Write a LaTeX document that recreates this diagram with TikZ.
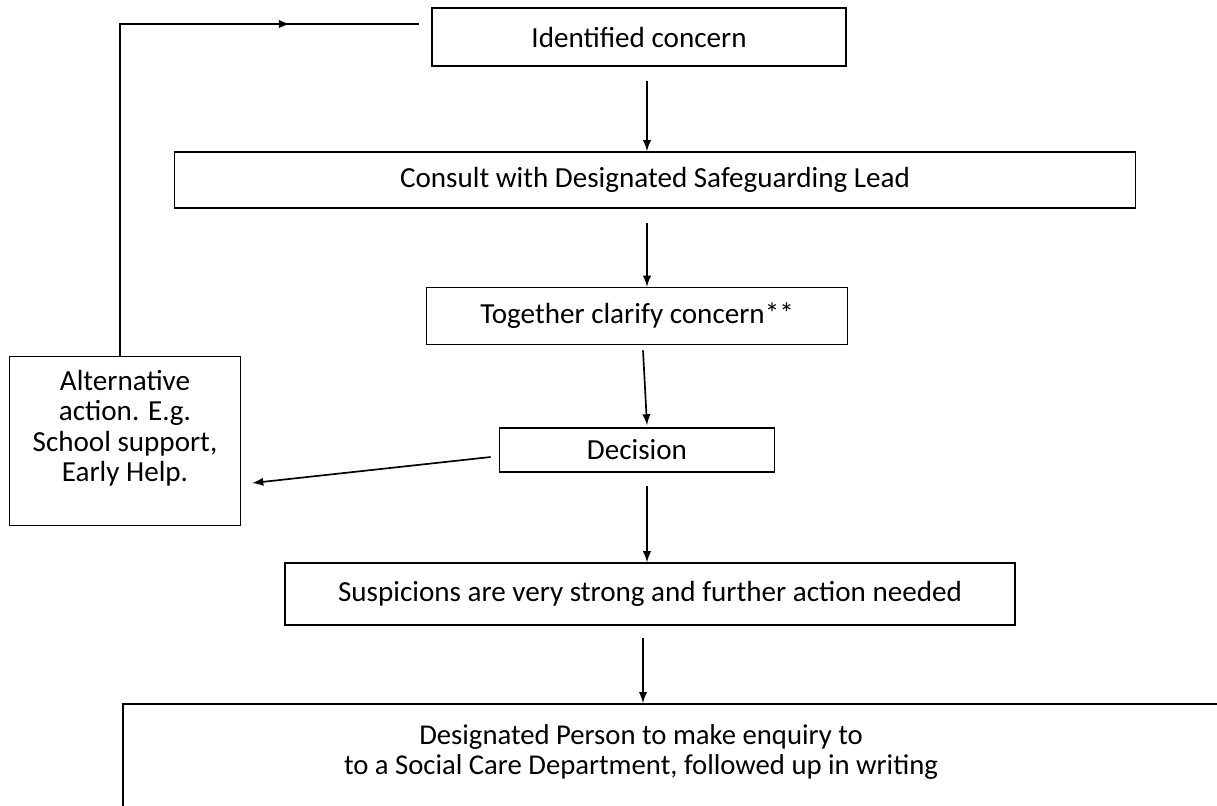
\documentclass[tikz,border=0pt]{standalone}
\usepackage{fontspec}
\setmainfont{Carlito}
\usetikzlibrary{arrows, calc, decorations.markings}
\newcommand{\pxu}{0.016667cm}
\tikzstyle{flowchartbox} = [text centered, draw, line width=0.8pt, inner sep=0pt, font=\fontsize{13.8}{14.3}\selectfont]
\tikzstyle{process} = [flowchartbox, rectangle]
\tikzstyle{flowchartarrow} = [-latex, line width=0.8pt]
\tikzstyle{looparrow} = [line width=0.8pt, postaction={decorate},
decoration={markings, mark=at position 0.795 with {\arrow{latex}}}]

\begin{document}
\begin{tikzpicture}[x=0.016667cm, y=-0.016667cm]
		\useasboundingbox (0,0) rectangle (1217,805);
		\clip (0,0) rectangle (1217,805);
		\node (identified) [process, minimum width=414*\pxu, minimum height=58*\pxu] at (639,37) {Identified concern};
		\node (consult) [process, minimum width=961*\pxu, minimum height=56*\pxu] at (655,180) {Consult with Designated Safeguarding Lead};
		\node (clarify) [process, minimum width=421*\pxu, minimum height=57*\pxu] at (637,316) {Together clarify concern**};
		\node (decision) [process, minimum width=275*\pxu, minimum height=44*\pxu] at (637,450) {Decision};
		\node (alt_action) [process, align=center, minimum width=231*\pxu, minimum height=169*\pxu] at (125,441) {Alternative\\action. E.g.\\School support,\\Early Help.\\ \mbox{}};
		\node (suspicions) [process, minimum width=730*\pxu, minimum height=62*\pxu] at (650,594) {Suspicions are very strong and further action needed};
		\node (designated) [process, anchor=north west, minimum width=1200*\pxu, minimum height=150*\pxu] at (122,703) {};
		\node (designated_text) [align=center, font=\fontsize{13.6}{14.3}\selectfont] at (641,752) {Designated Person to make enquiry to\\to a Social Care Department, followed up in writing};
		\coordinate (spine) at (647,0);
		\coordinate (loop_top) at (120,24);
		\coordinate (loop_end) at ($(identified.west)+(-12,-13)$);
		\draw [flowchartarrow, shorten <=6.6pt] (identified.south -| spine) -- (consult.north -| spine);
		\draw [flowchartarrow, shorten <=6.6pt] (consult.south -| spine) -- (clarify.north -| spine);
		\draw [flowchartarrow] ($(clarify.south)+(6,5)$) -- ($(decision.north)+(10,-2)$);
		\draw [flowchartarrow, shorten <=6.2pt] (decision.south -| spine) -- (suspicions.north -| spine);
		\draw [flowchartarrow, shorten <=5.7pt] ($(suspicions.south)+(-7,0)$) -- ($(designated.north west)+(521,0)$);
		\draw [flowchartarrow] ($(decision.west)+(-8,7)$) -- ($(alt_action.east)+(11,42)$);
		\draw [looparrow] (alt_action.north -| loop_top) |- (loop_end);
	\end{tikzpicture}
\end{document}
